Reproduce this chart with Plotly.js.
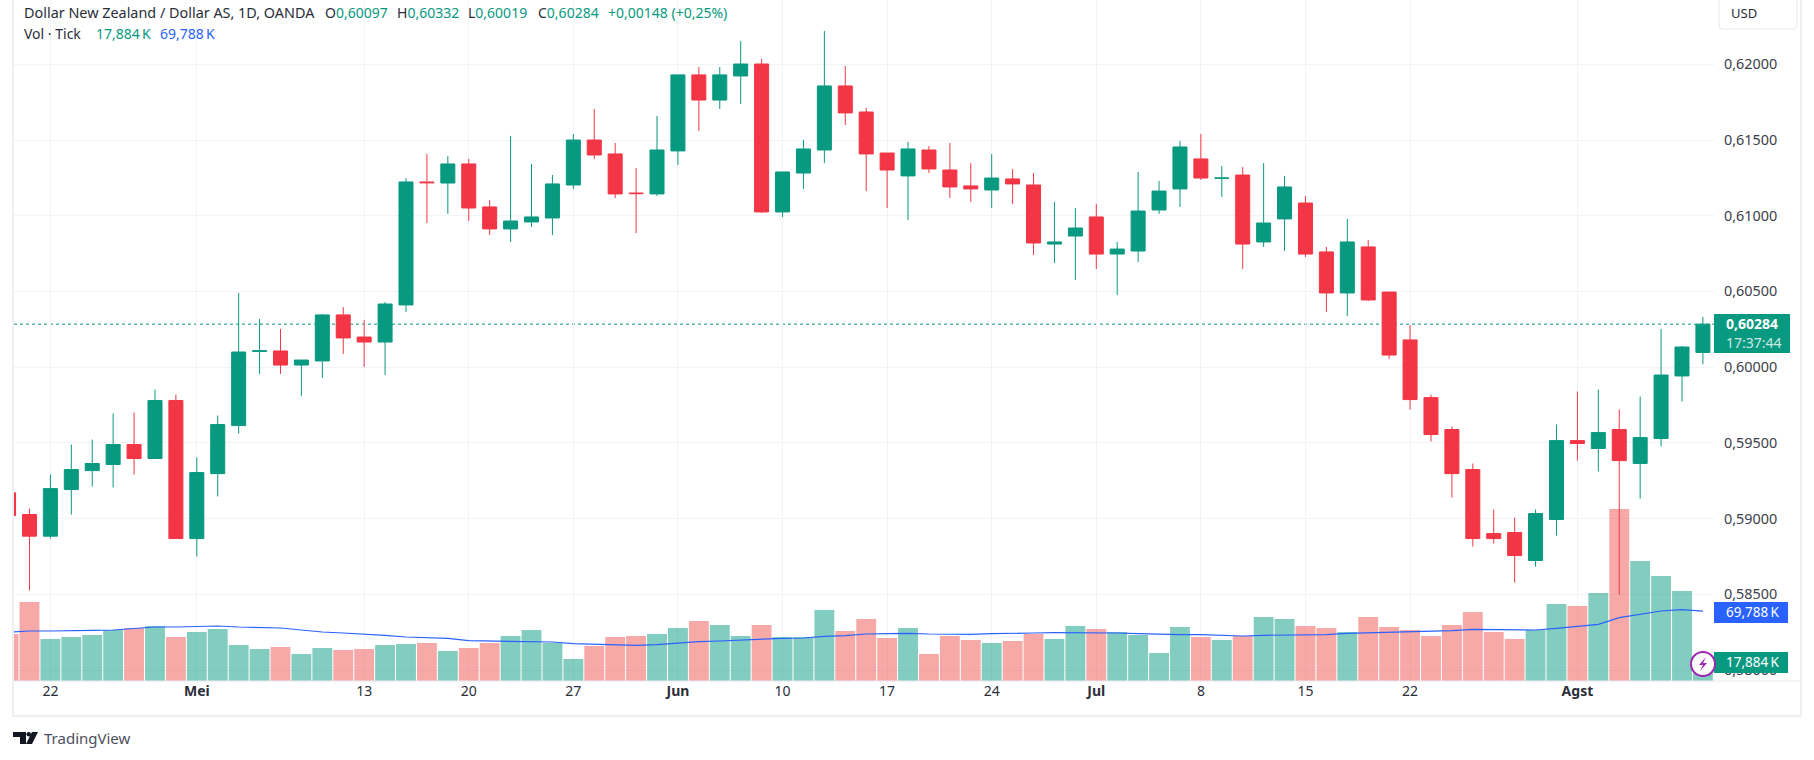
<!DOCTYPE html>
<html>
<head>
<meta charset="utf-8">
<script src="https://cdn.plot.ly/plotly-3.0.1.min.js"></script>
<style>
  html, body { margin: 0; padding: 0; background: #fff; }
</style>
</head>
<body>
<div id="chart" style="width:1814px;height:760px;"></div>
<script>
const dates = [
  '2024-04-18','2024-04-19','2024-04-22','2024-04-23','2024-04-24','2024-04-25','2024-04-26','2024-04-29','2024-04-30',
  '2024-05-01','2024-05-02','2024-05-03','2024-05-06','2024-05-07','2024-05-08','2024-05-09','2024-05-10','2024-05-13','2024-05-14','2024-05-15','2024-05-16','2024-05-17','2024-05-20','2024-05-21','2024-05-22','2024-05-23','2024-05-24','2024-05-27','2024-05-28','2024-05-29','2024-05-30','2024-05-31',
  '2024-06-03','2024-06-04','2024-06-05','2024-06-06','2024-06-07','2024-06-10','2024-06-11','2024-06-12','2024-06-13','2024-06-14','2024-06-17','2024-06-18','2024-06-19','2024-06-20','2024-06-21','2024-06-24','2024-06-25','2024-06-26','2024-06-27','2024-06-28',
  '2024-07-01','2024-07-02','2024-07-03','2024-07-04','2024-07-05','2024-07-08','2024-07-09','2024-07-10','2024-07-11','2024-07-12','2024-07-15','2024-07-16','2024-07-17','2024-07-18','2024-07-19','2024-07-22','2024-07-23','2024-07-24','2024-07-25','2024-07-26','2024-07-29','2024-07-30','2024-07-31',
  '2024-08-01','2024-08-02','2024-08-05','2024-08-06','2024-08-07','2024-08-08','2024-08-09'
];
const opens = [
  .59170,.59027,.58884,.59192,.59317,.59357,.59489,.59397,.59780,
  .58868,.59297,.59614,.60104,.60107,.60014,.60041,.60345,.60199,.60166,.60411,.61223,.61216,.61342,.61058,.60913,.60959,.60985,.61203,.61500,.61408,.61150,.61144,
  .61428,.61930,.61764,.61923,.62002,.61025,.61282,.61434,.61857,.61685,.61414,.61263,.61434,.61302,.61197,.61170,.61243,.61203,.60813,.60866,
  .60992,.60747,.60767,.61038,.61177,.61375,.61247,.61269,.60827,.60979,.61084,.60761,.60490,.60794,.60496,.60180,.59799,.59588,.59324,.58901,.58908,.58723,.58994,
  .59515,.59463,.59588,.59364,.59529,.59942,.60097
];
const highs = [
  .59200,.59066,.59291,.59489,.59522,.59694,.59700,.59852,.59819,
  .59403,.59681,.60490,.60318,.60252,.60047,.60351,.60397,.60312,.60430,.61249,.61408,.61395,.61375,.61104,.61527,.61342,.61269,.61540,.61705,.61480,.61315,.61659,
  .61930,.61982,.61982,.62154,.62035,.61289,.61500,.62220,.61989,.61712,.61414,.61487,.61461,.61480,.61348,.61408,.61309,.61282,.61091,.61051,
  .61078,.60827,.61289,.61230,.61494,.61540,.61329,.61322,.61348,.61263,.61130,.60794,.60979,.60840,.60496,.60279,.59819,.59608,.59364,.59060,.59007,.59060,.59621,
  .59839,.59852,.59720,.59806,.60252,.60140,.60332
];
const lows = [
  .58950,.58525,.58868,.59027,.59212,.59205,.59291,.59395,.58866,
  .58749,.59146,.59562,.59955,.59955,.59810,.59929,.60087,.60001,.59948,.60364,.60952,.61012,.60965,.60873,.60827,.60926,.60873,.61177,.61375,.61117,.60886,.61130,
  .61335,.61560,.61705,.61738,.61018,.60992,.61177,.61348,.61599,.61163,.61051,.60972,.61282,.61117,.61091,.61051,.61078,.60741,.60688,.60576,
  .60648,.60477,.60695,.61012,.61058,.61236,.61124,.60648,.60794,.60767,.60728,.60364,.60338,.60437,.60054,.59720,.59509,.59139,.58815,.58835,.58578,.58683,.58888,
  .59383,.59311,.58498,.59132,.59476,.59773,.60019
];
const closes = [
  .59020,.58884,.59198,.59324,.59364,.59489,.59397,.59780,.58868,
  .59304,.59621,.60100,.60108,.60014,.60047,.60345,.60193,.60166,.60417,.61223,.61218,.61342,.61051,.60913,.60965,.60992,.61210,.61500,.61401,.61144,.61146,.61434,
  .61930,.61764,.61930,.62002,.61025,.61289,.61441,.61857,.61679,.61408,.61302,.61441,.61309,.61190,.61177,.61249,.61210,.60820,.60827,.60919,
  .60747,.60780,.61031,.61163,.61454,.61249,.61249,.60813,.60952,.61190,.60747,.60490,.60827,.60444,.60080,.59786,.59555,.59297,.58868,.58868,.58756,.59033,.59515,
  .59496,.59568,.59383,.59535,.59948,.60133,.60284
];
// tick volume, in thousands
const volumes = [
  47,79,42,44,46,51,53,55,44,
  49,52,36,32,34,27,33,31,32,36,37,38,30,33,38,45,51,38,22,35,44,45,47,
  53,60,56,45,56,44,44,71,50,62,43,53,27,45,41,38,40,47,42,55,
  52,49,46,28,54,44,41,45,64,62,55,53,49,64,54,51,45,56,69,49,42,51,77,
  75,88,172,120,105,90,17.884
];
const volumeMa = [
  48.7,50,50,50.7,50.7,51,52.7,54,54,
  54.3,55,54,53.3,53,51,49,48,47,45.7,44,43,42.7,40.3,40,39.7,39.7,39,37.3,36.7,36,35.7,36.3,
  38,39.3,40,41,41.7,42.7,43,44.7,45.3,47,47.3,47.7,47,46.7,46.7,47.3,48,48,48.3,48.3,
  48.7,48,47.3,46.7,46.3,46.3,46,45,45.7,46,46.3,46.3,47.7,48.3,49,49.3,50,50.3,51.7,51.7,51,51,52.7,
  55,56.7,63.3,67,70,71.3,69.788
];
const tickDates = ['2024-04-22','2024-05-01','2024-05-13','2024-05-20','2024-05-27','2024-06-03','2024-06-10','2024-06-17','2024-06-24','2024-07-01','2024-07-08','2024-07-15','2024-07-22','2024-08-01'];
const tickLabels = ['22','<b>Mei</b>','13','20','27','<b>Jun</b>','10','17','24','<b>Jul</b>','8','15','22','<b>Agst</b>'];
const priceTicks = [0.58,0.585,0.59,0.595,0.60,0.605,0.61,0.615,0.62];
const lastPrice = 0.60284;

const GREEN = '#089981', RED = '#F23645', BLUE = '#2962FF', TEXT = '#2A2E39';
const FONT = '"Noto Sans", Lato, sans-serif';

// pane edges in window pixels, everything outside the axes is placed from these
const paneL = 14, paneR = 1714, paneT = 0, paneB = 681;
const px = (x) => (x - paneL) / (paneR - paneL);
const py = (y) => (paneB - y) / (paneB - paneT);

const volumeBars = {
  type: 'bar',
  x: dates,
  y: volumes,
  yaxis: 'y',
  marker: {
    color: closes.map((c, i) => c >= opens[i] ? 'rgba(8,153,129,0.5)' : 'rgba(239,83,80,0.5)'),
    line: { width: 0 }
  },
  hoverinfo: 'skip'
};
const maLine = {
  type: 'scatter',
  mode: 'lines',
  x: dates,
  y: volumeMa,
  yaxis: 'y',
  line: { color: BLUE, width: 1.2 },
  hoverinfo: 'skip'
};
const candles = {
  type: 'candlestick',
  x: dates,
  open: opens,
  high: highs,
  low: lows,
  close: closes,
  yaxis: 'y2',
  whiskerwidth: 0,
  increasing: { line: { color: GREEN, width: 1 }, fillcolor: GREEN },
  decreasing: { line: { color: RED, width: 1 }, fillcolor: RED },
  hoverinfo: 'skip'
};

const box = (x0, y0, x1, y1, color) => ({
  type: 'rect', xref: 'paper', yref: 'paper', layer: 'above',
  x0: px(x0), x1: px(x1), y0: py(y0), y1: py(y1),
  fillcolor: color, line: { width: 0 }
});
const rule = (x0, y0, x1, y1, color, width) => ({
  type: 'line', xref: 'paper', yref: 'paper', layer: 'above',
  x0: px(x0), x1: px(x1), y0: py(y0), y1: py(y1),
  line: { color: color, width: width }
});
const pathShape = (pts, fill) => ({
  type: 'path', xref: 'paper', yref: 'paper', layer: 'above',
  path: 'M' + pts.map((p) => `${px(p[0])},${py(p[1])}`).join('L') + 'Z',
  fillcolor: fill, line: { width: 0 }
});
const label = (x, y, text, color, size, anchor) => ({
  xref: 'paper', yref: 'paper', x: px(x), y: py(y),
  xanchor: anchor || 'left', yanchor: 'middle', showarrow: false,
  text: text, align: 'left', borderpad: 0,
  font: { family: FONT, size: size || 14, color: color || TEXT }
});
const green = (s) => `<span style="color:${GREEN}">${s}</span>`;

const shapes = [
  // last price line sits under the candles
  { type: 'line', xref: 'paper', yref: 'y2', layer: 'below', x0: 0, x1: 1, y0: lastPrice, y1: lastPrice,
    line: { color: GREEN, width: 1, dash: 'dot' } },
  // frame
  rule(13, 0, 13, 717, '#EEEEF3', 2),
  rule(13, 716, 1801, 716, '#EEEEF3', 2),
  rule(1801, 0, 1801, 717, '#EEEEF3', 2),
  rule(14, 681, 1801, 681, '#E6E8EF', 1),
  // USD button
  { type: 'path', xref: 'paper', yref: 'paper', layer: 'above',
    path: `M${px(1719)},${py(-2)}L${px(1719)},${py(25)}Q${px(1719)},${py(29)} ${px(1723)},${py(29)}L${px(1793)},${py(29)}Q${px(1797)},${py(29)} ${px(1797)},${py(25)}L${px(1797)},${py(-2)}`,
    fillcolor: '#fff', line: { color: '#E6E8EF', width: 1 } },
  // price scale labels
  box(1714, 314, 1790, 353, GREEN),
  box(1714, 602, 1788, 623, BLUE),
  box(1714, 652, 1788, 673, GREEN),
  // lightning badge
  { type: 'circle', xref: 'paper', yref: 'paper', layer: 'above',
    x0: px(1691), x1: px(1715), y0: py(652), y1: py(676),
    fillcolor: '#fff', line: { color: '#9C27B0', width: 2 } },
  pathShape([[1706, 657], [1699, 665], [1703, 665], [1700, 671], [1707, 663], [1703, 663]], '#9C27B0'),
  // TradingView mark
  pathShape([[13, 732], [26, 732], [26, 744], [20, 744], [20, 737], [13, 737]], '#131722'),
  pathShape([[32, 732], [38, 732], [32, 744], [26, 744]], '#131722'),
  { type: 'circle', xref: 'paper', yref: 'paper', layer: 'above',
    x0: px(26.5), x1: px(31), y0: py(732), y1: py(736.5),
    fillcolor: '#131722', line: { width: 0 } }
];

const annotations = [
  label(23, 12, 'Dollar New Zealand / Dollar AS, 1D, OANDA', TEXT, 14.4),
  label(324, 12, 'O' + green('0,60097')),
  label(396, 12, 'H' + green('0,60332')),
  label(467, 12, 'L' + green('0,60019')),
  label(537, 12, 'C' + green('0,60284')),
  label(607, 12, '+0,00148 (+0,25%)', GREEN),
  label(23, 33, 'Vol · Tick'),
  label(95, 33, '17,884\u2009K', GREEN),
  label(159, 33, '69,788\u2009K', BLUE),
  label(1730, 13, 'USD', TEXT, 13),
  label(1725, 323, '<b>0,60284</b>', '#fff', 14),
  label(1725, 342, '17:37:44', 'rgba(255,255,255,0.8)', 14),
  label(1725, 612, '69,788\u2009K', '#fff', 13.5),
  label(1725, 662, '17,884\u2009K', '#fff', 13.5),
  label(43, 738, 'TradingView', '#4A4F5C', 15)
];

const layout = {
  width: 1814,
  height: 760,
  margin: { l: paneL, r: 1814 - paneR, t: paneT, b: 760 - paneB },
  paper_bgcolor: '#fff',
  plot_bgcolor: '#fff',
  showlegend: false,
  separators: ',.',
  bargap: 0.05,
  boxgap: 0.33,
  boxgroupgap: 0,
  xaxis: {
    type: 'category',
    range: [0.26, 81.53],
    tickvals: tickDates,
    ticktext: tickLabels,
    tickangle: 0,
    ticks: '',
    showline: false,
    zeroline: false,
    gridcolor: '#F2F3F7',
    gridwidth: 1,
    rangeslider: { visible: false },
    tickfont: { family: FONT, size: 14, color: TEXT }
  },
  yaxis: {
    range: [0, 681],
    visible: false,
    showgrid: false,
    zeroline: false
  },
  yaxis2: {
    overlaying: 'y',
    side: 'right',
    range: [0.579276, 0.624246],
    tickvals: priceTicks,
    tickformat: '.5f',
    ticks: '',
    ticklabelstandoff: 9,
    showline: false,
    zeroline: false,
    gridcolor: '#F2F3F7',
    gridwidth: 1,
    tickfont: { family: FONT, size: 14.4, color: '#3C404B' }
  },
  shapes: shapes,
  annotations: annotations
};

Plotly.newPlot('chart', [volumeBars, maLine, candles], layout, { displayModeBar: false, staticPlot: true });
</script>
</body>
</html>
